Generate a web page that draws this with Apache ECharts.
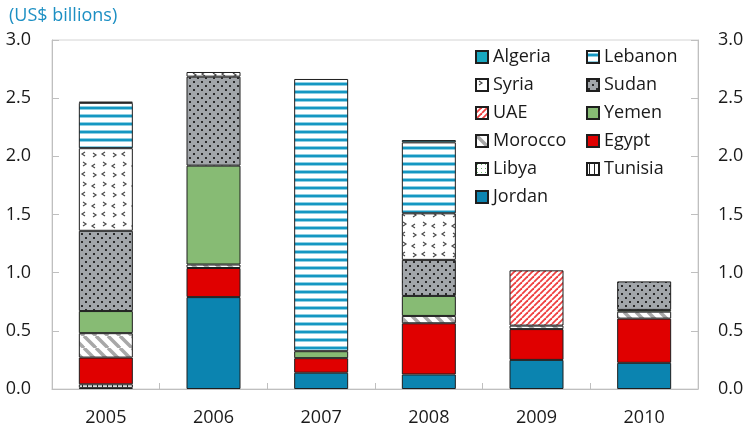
<!DOCTYPE html>
<html>
<head>
<meta charset="utf-8">
<script src="https://cdn.jsdelivr.net/npm/echarts@6/dist/echarts.min.js"></script>
<style>
  html, body { margin: 0; padding: 0; background: #fff; }
  #chart { width: 756px; height: 429px; }
</style>
</head>
<body>
<div id="chart"></div>
<script>
// Aid flows by recipient country, stacked per year (US$ billions)
const years = ['2005', '2006', '2007', '2008', '2009', '2010'];
const yTicks = [0, 0.5, 1.0, 1.5, 2.0, 2.5, 3.0];

const jordan  = [0.01, 0.79, 0.14, 0.125, 0.25, 0.225];
const tunisia = [0.03, null, null, null, null, null];
const libya   = [null, null, null, null, null, null];
const egypt   = [0.23, 0.25, 0.125, 0.44, 0.265, 0.38];
const morocco = [0.21, 0.03, null, 0.063, 0.03, 0.06];
const yemen   = [0.19, 0.85, 0.06, 0.172, null, 0.015];
const uae     = [null, null, null, null, 0.475, null];
const sudan   = [0.69, 0.765, null, 0.31, null, 0.245];
const syria   = [0.71, 0.04, null, 0.40, null, null];
const lebanon = [0.39, null, 2.34, 0.61, null, null];
const algeria = [0.01, null, null, 0.02, null, null];

const FONT = '"Open Sans", "Noto Sans", sans-serif';

// Small canvas tiles used as fill patterns
function tile(w, h, draw) {
  const c = document.createElement('canvas');
  c.width = w; c.height = h;
  const g = c.getContext('2d');
  g.fillStyle = '#ffffff';
  g.fillRect(0, 0, w, h);
  draw(g, w, h);
  return { image: c, repeat: 'repeat' };
}

const lebanonFill = tile(8, 8, (g) => {
  g.fillStyle = '#8fd0e3'; g.fillRect(0, 2, 8, 1); g.fillRect(0, 5, 8, 1);
  g.fillStyle = '#1597c2'; g.fillRect(0, 3, 8, 2);
});
const sudanFill = tile(8, 8, (g) => {
  g.fillStyle = '#a2a6aa'; g.fillRect(0, 0, 8, 8);
  g.fillStyle = '#2a2a2a';
  g.fillRect(1, 1, 2, 2); g.fillRect(5, 5, 2, 2);
});
const syriaFill = tile(20, 20, (g) => {
  g.strokeStyle = '#4a4a4a'; g.lineWidth = 1.2;
  const chev = (x, y, dir) => {
    g.beginPath();
    g.moveTo(x, y); g.lineTo(x + 3 * dir, y + 2); g.lineTo(x, y + 4);
    g.stroke();
  };
  chev(3, 2, 1); chev(15, 4, -1); chev(5, 12, -1); chev(13, 13, 1);
});
const uaeFill = tile(6, 6, (g, w, h) => {
  g.strokeStyle = '#ef4040'; g.lineWidth = 1.8;
  for (const o of [-w, 0, w]) {
    g.beginPath(); g.moveTo(o, h); g.lineTo(o + w, 0); g.stroke();
  }
});
const moroccoFill = tile(12, 12, (g, w, h) => {
  g.strokeStyle = '#a8a8a8'; g.lineWidth = 3.5;
  for (const o of [-w, 0, w]) {
    g.beginPath(); g.moveTo(o, 0); g.lineTo(o + w, h); g.stroke();
  }
});
const libyaFill = tile(4, 4, (g) => {
  g.fillStyle = '#6cb86c'; g.fillRect(1, 1, 1, 1);
});
const tunisiaFill = tile(5, 5, (g) => {
  g.fillStyle = '#222222'; g.fillRect(2, 0, 1, 5);
});

const border = { borderColor: '#1e1e1e', borderWidth: 1 };

const seriesDefs = [
  ['Jordan', jordan, '#0b84b0'],
  ['Tunisia', tunisia, tunisiaFill],
  ['Libya', libya, libyaFill],
  ['Egypt', egypt, '#e00000'],
  ['Morocco', morocco, moroccoFill],
  ['Yemen', yemen, '#87bb74'],
  ['UAE', uae, uaeFill],
  ['Sudan', sudan, sudanFill],
  ['Syria', syria, syriaFill],
  ['Lebanon', lebanon, lebanonFill],
  ['Algeria', algeria, '#18a8c0']
];

const series = seriesDefs.map(([name, data, color]) => ({
  name,
  type: 'bar',
  stack: 'total',
  data,
  barWidth: 54,
  itemStyle: Object.assign({ color }, border),
  emphasis: { disabled: true }
}));

const legendBase = {
  orient: 'vertical',
  top: 46,
  padding: 0,
  icon: 'rect',
  itemWidth: 12,
  itemHeight: 12,
  itemGap: 6,
  selectedMode: false,
  textStyle: { fontFamily: FONT, fontSize: 18, color: '#1a1a1a', lineHeight: 22, padding: [0, 0, 0, 0] }
};

const axisLabel = {
  fontFamily: FONT, fontSize: 18, color: '#1a1a1a',
  formatter: (v) => v.toFixed(1)
};

const yBase = {
  type: 'value',
  min: yTicks[0],
  max: yTicks[yTicks.length - 1],
  interval: 0.5,
  splitLine: { show: false },
  axisLine: { show: true, lineStyle: { color: '#bfbfbf' } },
  axisTick: { show: true, inside: true, length: 7, lineStyle: { color: '#bfbfbf' } }
};

const chart = echarts.init(document.getElementById('chart'), null, { renderer: 'canvas' });
chart.setOption({
  animation: false,
  backgroundColor: '#ffffff',
  title: {
    text: '(US$ billions)',
    left: 4, top: 2,
    textStyle: { fontFamily: FONT, fontSize: 18, fontWeight: 'normal', color: '#1c8fc3' }
  },
  grid: {
    left: 52, right: 58, top: 40, bottom: 40,
    containLabel: false,
    outerBoundsMode: 'none',
    show: true,
    borderColor: '#d4d4d4',
    borderWidth: 1
  },
  legend: [
    Object.assign({ left: 475, data: ['Algeria', 'Syria', 'UAE', 'Morocco', 'Libya', 'Jordan'] }, legendBase),
    Object.assign({ left: 586, data: ['Lebanon', 'Sudan', 'Yemen', 'Egypt', 'Tunisia'] }, legendBase)
  ],
  xAxis: {
    type: 'category',
    data: years,
    axisLine: { show: true, lineStyle: { color: '#bfbfbf' } },
    axisTick: { show: true, inside: true, length: 6, lineStyle: { color: '#bfbfbf' } },
    axisLabel: { fontFamily: FONT, fontSize: 18, color: '#1a1a1a', margin: 20 }
  },
  yAxis: [
    Object.assign({ position: 'left', axisLabel: Object.assign({ margin: 21 }, axisLabel) }, yBase),
    Object.assign({ position: 'right', axisLabel: Object.assign({ margin: 20 }, axisLabel) }, yBase)
  ],
  series
});
</script>
</body>
</html>
